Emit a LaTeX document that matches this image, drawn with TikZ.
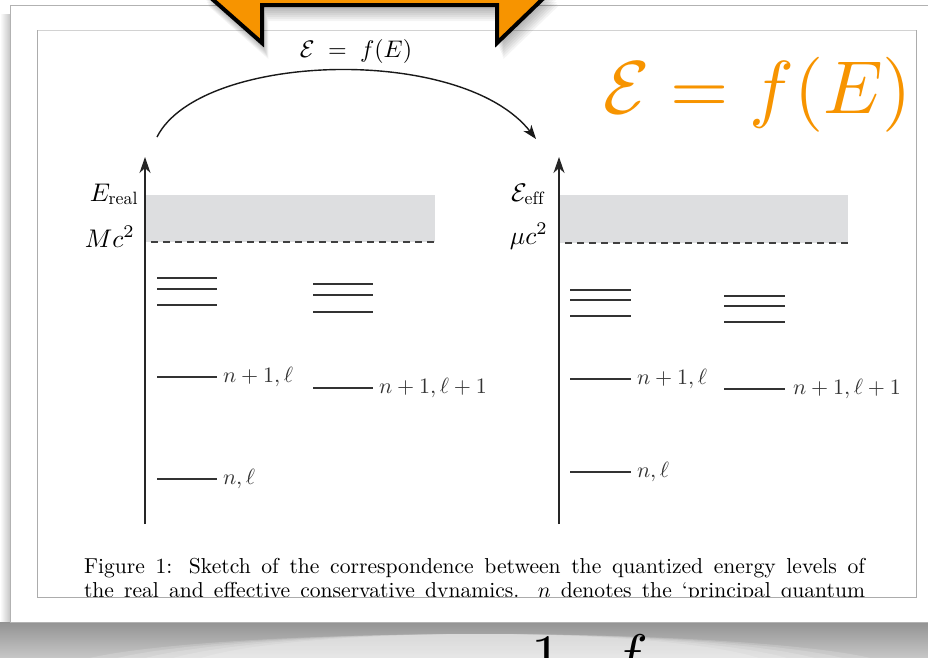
\documentclass[tikz,border=0pt]{standalone}
\usepackage{fontspec}
\setmainfont{lmroman10-regular}[Extension=.otf]
\usetikzlibrary{arrows.meta, positioning}
% keep the 10pt designs of the math fonts at every size
\DeclareFontShape{OML}{cmm}{m}{it}{<->cmmi10}{}
\DeclareFontShape{OMS}{cmsy}{m}{n}{<->cmsy10}{}
\DeclareFontShape{OT1}{cmr}{m}{n}{<-18>cmr7<18->cmr10}{}
\definecolor{slideorange}{RGB}{247,148,0}
\definecolor{bandgray}{RGB}{221,222,224}
\newcommand{\lvlfont}{\fontsize{22}{26}\selectfont}
\newcommand{\axfont}{\fontsize{25.5}{30}\selectfont}
\newcommand{\mapfont}{\fontsize{24}{29}\selectfont}
\newcommand{\capfont}{\fontsize{21.6}{24}\selectfont}

\begin{document}
\begin{tikzpicture}[x=1pt, y=-1pt,
every node/.style={inner sep=0pt, outer sep=0pt},
axis/.style={-{Stealth[length=16pt, width=11pt, inset=5pt]}, line width=1.6pt, black!85},
mapping/.style={-{Stealth[length=14pt, width=10pt, inset=4pt]}, line width=1.4pt, black!90},
level/.style={line width=1.3pt, black!80},
limit/.style={line width=1.3pt, dash pattern=on 7pt off 5pt, black!75},
band/.style={fill=bandgray, draw=none},
lvllabel/.style={anchor=west, xshift=6pt, font=\lvlfont},
axlabel/.style={anchor=base east, font=\axfont}
]
\useasboundingbox (0,0) rectangle (928,657);
% Slide card and its shadow
\fill[white] (0,0) rectangle (928,657);
\shade[left color=white, right color=gray!45] (0,14) rectangle (10,622);
\shade[top color=gray!85, bottom color=gray!45] (0,622) rectangle (928,657);
\foreach \r in {420,390,360,330,300}
  \fill[white, opacity=0.17] (480,672) ellipse [x radius=\r, y radius=38];
\filldraw[fill=white, draw=gray!60, line width=1pt] (10,5) rectangle (945,622);
% Figure frame
\draw[gray!35, line width=0.8pt] (37,30) -- (916,30);
\draw[gray!65, line width=0.8pt] (37,30) -- (37,597) -- (916,597) -- (916,30);

% Left panel: real dynamics
\fill[band] (146,195) rectangle (435,242);
\draw[limit] (151,242) -- (435,242);
\coordinate (laxbot) at (145,524);
\coordinate (laxtop) at (145,157);
\draw[axis] (laxbot) -- (laxtop);
\node[axlabel] (ereal) at (138,201) {$E_{\mathrm{real}}$};
\node[axlabel] (mcsq) at (134,247) {$Mc^2$};
\foreach \y in {278,289,305} \draw[level] (157,\y) -- ++(60,0);
\foreach \y in {284,295,312} \draw[level] (313,\y) -- ++(60,0);
\draw[level] (157,377) -- ++(60,0) node[lvllabel] (lnpl) {$n+1,\ell$};
\draw[level] (313,388) -- ++(60,0) node[lvllabel] (lnplp) {$n+1,\ell+1$};
\draw[level] (157,479) -- ++(60,0) node[lvllabel] (lnl) {$n,\ell$};

% Right panel: effective dynamics
\fill[band] (560,195) rectangle (848,243);
\draw[limit] (565,243) -- (848,243);
\coordinate (raxbot) at (559,524);
\coordinate (raxtop) at (559,157);
\draw[axis] (raxbot) -- (raxtop);
\node[axlabel] (eeff) at (544,201) {$\mathcal{E}_{\mathrm{eff}}$};
\node[axlabel] (musq) at (547,244) {$\mu c^2$};
\foreach \y in {290,300,316} \draw[level] (570,\y) -- ++(61,0);
\foreach \y in {296,306,322} \draw[level] (724,\y) -- ++(61,0);
\draw[level] (570,379) -- ++(61,0) node[lvllabel] (rnpl) {$n+1,\ell$};
\draw[level] (724,389) -- ++(61,0) node[lvllabel, xshift=2pt] (rnplp) {$n+1,\ell+1$};
\draw[level] (570,472) -- ++(61,0) node[lvllabel] (rnl) {$n,\ell$};

% Mapping arrow between the two spectra
\coordinate (arcstart) at (157,137);
\coordinate (arcend) at (536,139);
\draw[mapping] (arcstart) .. controls (200,52) and (462,44) .. (arcend);
\node[anchor=base, font=\mapfont] (maplabel) at (356,57) {$\mathcal{E}\;=\;f(E)$};

% Caption
\begin{scope}
\clip (37,30) rectangle (916,596.6);
\node[anchor=base west, font=\capfont] (capone) at (84,573)
  {\makebox[781pt][s]{Figure 1: Sketch of the correspondence between the quantized energy levels of}};
\node[anchor=base west, font=\capfont] (captwo) at (84,597)
  {\makebox[781pt][s]{the real and effective conservative dynamics. $n$ denotes the `principal quantum}};
\end{scope}

% Slide overlay: orange formula and arrow
\node[anchor=base west, font=\fontsize{75}{90}\selectfont, text=slideorange] (bigmap) at (603,113) {$\mathcal{E}=f(E)$};
\foreach \k in {2,4,...,16}
  \fill[black, opacity=0.045] ([shift={(\k*0.4,\k)}]202,-10) -- ([shift={(\k*0.4,\k)}]262,43) -- ([shift={(\k*0.4,\k)}]262,5)
    -- ([shift={(\k*0.4,\k)}]497,5) -- ([shift={(\k*0.4,\k)}]497,43) -- ([shift={(\k*0.4,\k)}]552,-10) -- cycle;
\filldraw[fill=slideorange, draw=black, line width=4pt, line join=miter] (202,-10) -- (262,43) -- (262,5) -- (497,5) -- (497,43) -- (552,-10) -- cycle;
\node[anchor=base west, font=\fontsize{60}{70}\selectfont] (one) at (531,676) {$1$};
\node[anchor=base west, font=\fontsize{60}{70}\selectfont] (eff) at (612,676) {$f$};
\end{tikzpicture}
\end{document}
